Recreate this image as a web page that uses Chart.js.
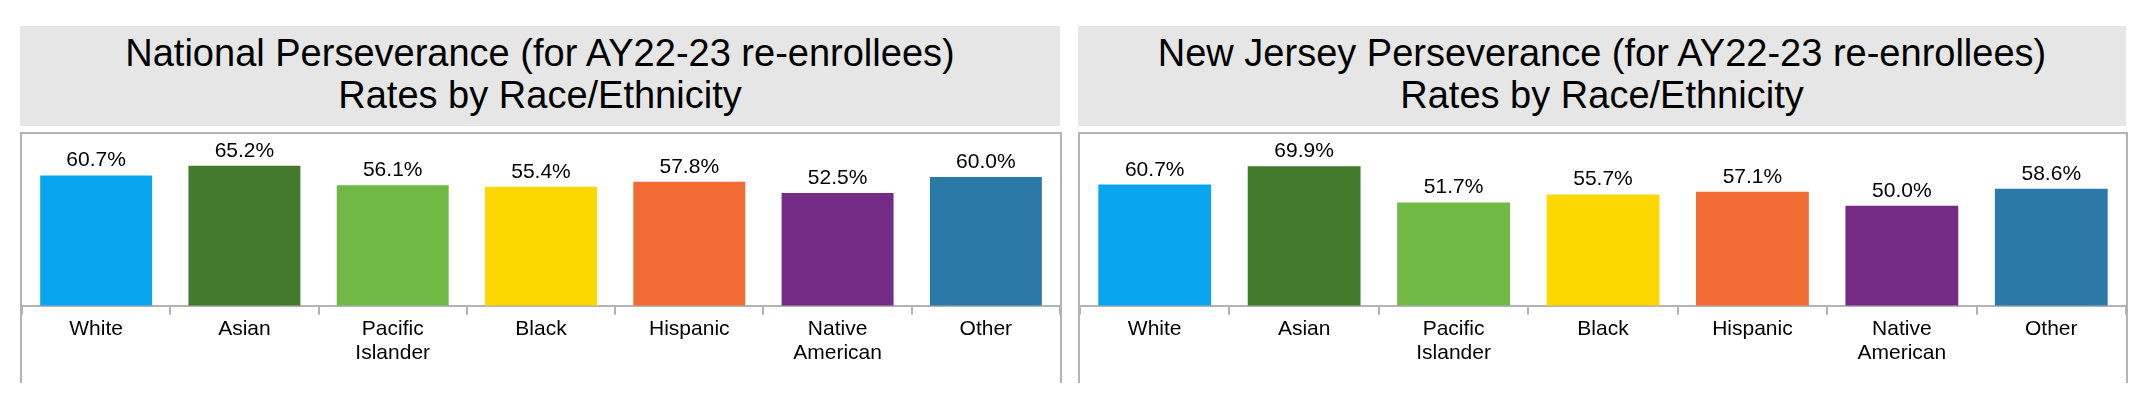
<!DOCTYPE html>
<html>
<head>
<meta charset="utf-8">
<script src="https://cdn.jsdelivr.net/npm/chart.js@4.4.0/dist/chart.umd.min.js"></script>
<style>
	body { margin: 0; background: #fff; width: 2152px; height: 414px; position: relative; overflow: hidden; font-family: 'Liberation Sans', Arial, sans-serif; }
	.title-box { position: absolute; top: 26px; height: 100px; background: #e6e6e6; text-align: center; font-size: 38px; line-height: 42px; color: #000; padding-top: 6px; box-sizing: border-box; }
	.frame { position: absolute; top: 132px; height: 251px; border: 2px solid #b3b3b3; border-bottom: none; box-sizing: border-box; }
	.frame canvas { position: absolute; left: 0; top: 0; }
</style>
</head>
<body>

<div class="title-box" style="left:20px; width:1040px;">National Perseverance (for AY22-23 re-enrollees)<br>Rates by Race/Ethnicity</div>
<div class="title-box" style="left:1078px; width:1048px;">New Jersey Perseverance (for AY22-23 re-enrollees)<br>Rates by Race/Ethnicity</div>

<div class="frame" style="left:20px; width:1042px;"><canvas id="chartNational" width="1038" height="249"></canvas></div>
<div class="frame" style="left:1078px; width:1050px;"><canvas id="chartNJ" width="1046" height="249"></canvas></div>

<script>
const categories = ['White', 'Asian', ['Pacific', 'Islander'], 'Black', 'Hispanic', ['Native', 'American'], 'Other'];
const nationalRates = [60.7, 65.2, 56.1, 55.4, 57.8, 52.5, 60.0];
const newJerseyRates = [60.7, 69.9, 51.7, 55.7, 57.1, 50.0, 58.6];
const barColors = ['#09a5ef', '#437a2b', '#6fb944', '#fdd700', '#f06c32', '#732b84', '#2a79a6'];
const axisMax = [80, 86];

// labels above each bar
const valueLabels = {
	id: 'valueLabels',
	afterDatasetsDraw(chart) {
		let ctx = chart.ctx;
		let meta = chart.getDatasetMeta(0);
		let values = chart.data.datasets[0].data;
		ctx.save();
		ctx.font = '21px "Liberation Sans", Arial, sans-serif';
		ctx.fillStyle = '#000';
		ctx.textAlign = 'center';
		ctx.textBaseline = 'alphabetic';
		meta.data.forEach(function(bar, i) {
			ctx.fillText(values[i].toFixed(1) + '%', bar.x, bar.y - 9);
		});
		ctx.restore();
	}
};

function makeChart(id, rates, max) {
	return new Chart(document.getElementById(id).getContext('2d'), {
		type: 'bar',
		data: {
			labels: categories,
			datasets: [{
				data: rates,
				backgroundColor: barColors,
				borderWidth: 0,
				barPercentage: 0.755,
				categoryPercentage: 1
			}]
		},
		options: {
			responsive: false,
			animation: false,
			layout: { padding: { top: 0, left: 0, right: 0, bottom: 16 } },
			plugins: { legend: { display: false }, tooltip: { enabled: false } },
			scales: {
				x: {
					grid: { offset: true, drawOnChartArea: false, drawTicks: true, tickLength: 9, color: '#b3b3b3', lineWidth: 2 },
					border: { display: true, color: '#b3b3b3', width: 2 },
					ticks: { color: '#000', padding: 2, maxRotation: 0, autoSkip: false, font: { family: '"Liberation Sans", Arial, sans-serif', size: 21, lineHeight: 1.15 } }
				},
				y: { display: false, min: 0, max: max }
			}
		},
		plugins: [valueLabels]
	});
}

makeChart('chartNational', nationalRates, axisMax[0]);
makeChart('chartNJ', newJerseyRates, axisMax[1]);
</script>
</body>
</html>
